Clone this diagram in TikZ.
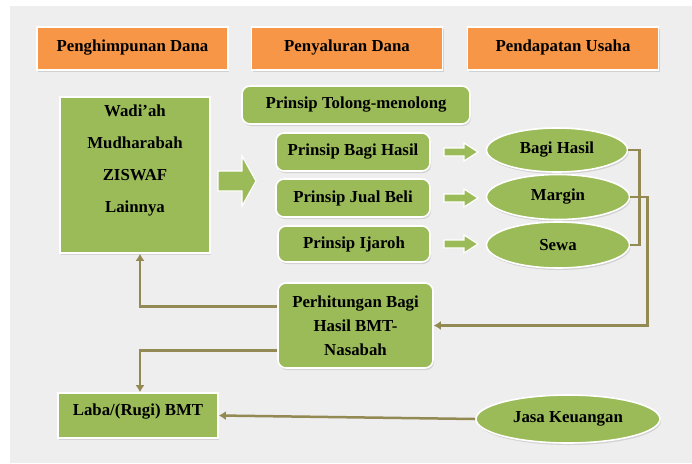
\documentclass[tikz,border=0pt]{standalone}
\usepackage{fontspec}
\setmainfont{Liberation Serif}
\usetikzlibrary{shapes.geometric,arrows.meta,shadows}
\definecolor{boxgreen}{HTML}{9BBB59}
\definecolor{boxorange}{HTML}{F79646}
\definecolor{linkolive}{HTML}{938953}
\definecolor{pagegray}{HTML}{EEEEEE}

\tikzset{
  shapebase/.style={draw=white, line width=1.6pt, text=black,
    font=\fontsize{16.8}{24}\selectfont\bfseries, inner sep=0pt,
    drop shadow={opacity=0.25, shadow xshift=1pt, shadow yshift=-2pt}},
  headbox/.style={shapebase, fill=boxorange, minimum width=191pt, minimum height=43pt},
  sqbox/.style={shapebase, fill=boxgreen},
  roundbox/.style={shapebase, fill=boxgreen, rounded corners=8pt},
  oval/.style={shapebase, fill=boxgreen, ellipse},
  link/.style={draw=linkolive, line width=2.5pt},
  linkarrow/.style={link, -{Latex[length=7pt,width=9pt]}},
  blockarrow/.style={fill=boxgreen, draw=white, line width=1.2pt}
}

\begin{document}
\begin{tikzpicture}[x=1pt,y=-1pt]
\useasboundingbox (0,0) rectangle (692,463);
\fill[white] (0,0) rectangle (692,463);
\fill[pagegray] (10,6) rectangle (692,463);

% column heads
\node[headbox, text depth=6pt] (H1) at (132.5,48.5) {Penghimpunan Dana};
\node[headbox, text depth=6pt] (H2) at (347,48.5) {Penyaluran Dana};
\node[headbox, text depth=6pt] (H3) at (563,48.5) {Pendapatan Usaha};

% sources of funds
\node[sqbox, minimum width=150pt, minimum height=156pt] (W) at (135,175) {};
\node[font=\fontsize{16.8}{32}\selectfont\bfseries, align=center, text=black] (Wt) at (135,160) {Wadi'ah\\Mudharabah\\ZISWAF\\Lainnya};

\draw[blockarrow] (218,171) -- (242,171) -- (242,156) -- (256,181) -- (242,206) -- (242,191) -- (218,191) -- cycle;

% distribution
\node[roundbox, minimum width=228pt, minimum height=38pt] (T) at (356,105) {Prinsip Tolong-menolong};
\node[roundbox, minimum width=154pt, minimum height=38pt] (B1) at (353,152) {Prinsip Bagi Hasil};
\node[roundbox, minimum width=154pt, minimum height=38pt] (B2) at (353,198) {Prinsip Jual Beli};
\node[roundbox, minimum width=152pt, minimum height=36pt] (B3) at (354,244) {Prinsip Ijaroh};

\foreach \y in {152,198,244}
  \draw[blockarrow] (444,\y-4) -- (464,\y-4) -- (464,\y-9) -- (478,\y) -- (464,\y+9) -- (464,\y+4) -- (444,\y+4) -- cycle;

% income
\node[oval, minimum width=141pt, minimum height=44pt] (E1) at (557,150) {Bagi Hasil};
\node[oval, minimum width=143pt, minimum height=45pt] (E2) at (558,197) {Margin};
\node[oval, minimum width=143pt, minimum height=46pt] (E3) at (558,245) {Sewa};

\node[roundbox, minimum width=155pt, minimum height=85pt, align=center] (P) at (355.5,325.5) {Perhitungan Bagi\\Hasil BMT-\\Nasabah};

\node[sqbox, minimum width=160pt, minimum height=45pt, text depth=12pt] (L) at (138,415.5) {Laba/(Rugi) BMT};
\node[oval, minimum width=184pt, minimum height=48pt] (J) at (568,419) {Jasa Keuangan};

\draw[link] (E1.east) -- ++(11,0) |- (E3.east);
\draw[linkarrow] (E2.east) -- ++(17,0) |- (P.east);
\draw[linkarrow] ([yshift=19pt]P.west) -| ([xshift=5pt]W.south);
\draw[linkarrow] ([yshift=-25pt]P.west) -| ([xshift=2pt]L.north);
\draw[linkarrow] (J.west) -- (L.east);
\end{tikzpicture}
\end{document}
